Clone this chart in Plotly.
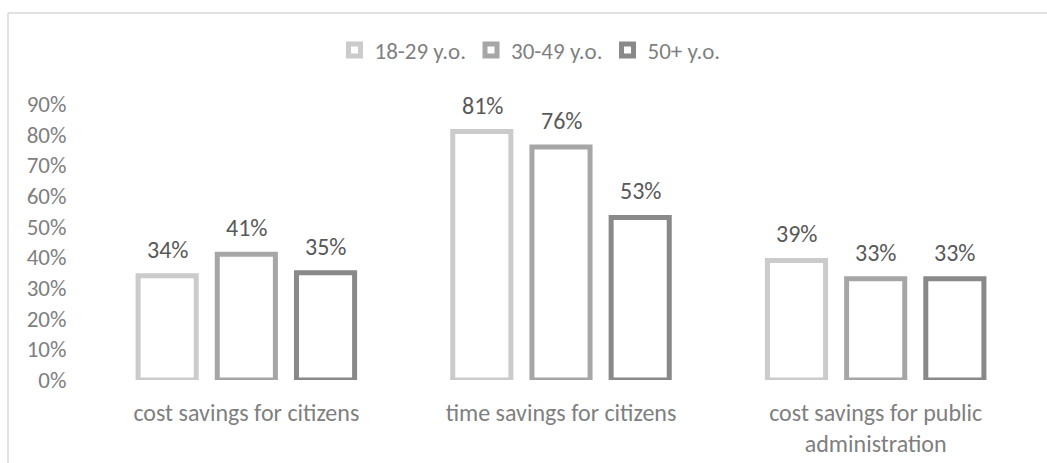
import plotly.graph_objects as go

categories = ["cost savings for citizens", "time savings for citizens",
              "cost savings for public<br>administration"]
series_names = ["18-29 y.o.", "30-49 y.o.", "50+ y.o."]
values_18_29 = [0.34, 0.81, 0.39]
values_30_49 = [0.41, 0.76, 0.33]
values_50_plus = [0.35, 0.53, 0.33]
y_ticks = [0, 0.1, 0.2, 0.3, 0.4, 0.5, 0.6, 0.7, 0.8, 0.9]

series_values = [values_18_29, values_30_49, values_50_plus]
colors = ["#CBCBCB", "#A6A6A6", "#898989"]
label_shift = [-79, 0, 79]

FONT = "Calibri, Carlito, Lato, sans-serif"
W, H = 1047, 463
L, R, T, B = 89, 14, 104, 83
pw, ph = W - L - R, H - T - B

def px_x(x):
    return (x - L) / pw

def px_y(y):
    return (H - B - y) / ph

fig = go.Figure()
for name, vals, col in zip(series_names, series_values, colors):
    fig.add_trace(go.Bar(
        name=name, x=categories, y=vals,
        marker=dict(color="white", line=dict(color=col, width=5)),
        hoverinfo="skip",
    ))

# value labels above each bar
for vals, dx in zip(series_values, label_shift):
    for cat, v in zip(categories, vals):
        fig.add_annotation(
            x=cat, y=v, xref="x", yref="y", text=f"{round(v * 100)}%",
            showarrow=False, yanchor="bottom", xshift=dx, yshift=10,
            font=dict(family=FONT, size=24, color="#595959"),
        )

# chart frame
fig.add_shape(type="line", xref="paper", yref="paper",
              x0=px_x(8), x1=px_x(1060), y0=px_y(13), y1=px_y(13),
              line=dict(color="#D9D9D9", width=1.5))
fig.add_shape(type="line", xref="paper", yref="paper",
              x0=px_x(8), x1=px_x(8), y0=px_y(13), y1=px_y(480),
              line=dict(color="#D9D9D9", width=1.5))

fig.update_layout(
    width=W, height=H,
    margin=dict(l=L, r=R, t=T, b=B, autoexpand=False),
    paper_bgcolor="white", plot_bgcolor="white",
    barmode="group", bargap=0.245, bargroupgap=0.266,
    font=dict(family=FONT, size=23, color="#7F7F7F"),
    showlegend=True,
    legend=dict(
        orientation="h", xref="paper", yref="paper",
        x=px_x(530), y=px_y(50), xanchor="center", yanchor="middle",
        font=dict(family=FONT, size=23, color="#7F7F7F"),
        bgcolor="rgba(0,0,0,0)", itemclick=False,
    ),
    xaxis=dict(
        showgrid=False, showline=False, zeroline=False,
        ticks="outside", ticklen=11, tickcolor="rgba(0,0,0,0)",
        tickfont=dict(family=FONT, size=24, color="#7F7F7F"),
    ),
    yaxis=dict(
        range=[0, 0.9], tickvals=y_ticks, tickformat=".0%",
        showgrid=False, showline=False, zeroline=False,
        ticks="outside", ticklen=17, tickcolor="rgba(0,0,0,0)",
        tickfont=dict(family=FONT, size=23, color="#7F7F7F"),
    ),
)

fig.write_html("out.html")
